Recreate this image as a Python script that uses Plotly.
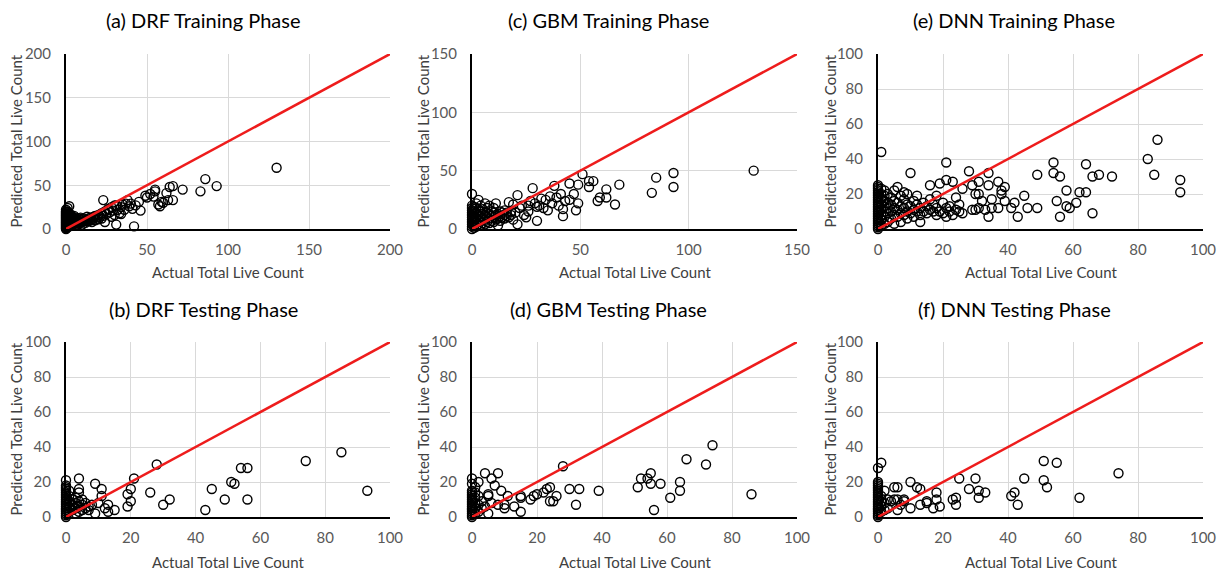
import plotly.graph_objects as go

W, H = 1225, 573

# ---------------- data ----------------
# (a) DRF Training Phase
drf_train_actual = [0,0,0,0,0,0,0,0,0,0,0,0,0,0,0,0,0,0,0,0,0,0,1,1,1,1,1,1,1,1,2,2,2,2,2,2,2,3,3,3,3,3,4,4,4,4,5,5,5,5,6,6,6,6,7,7,7,8,8,8,9,9,9,10,10,10,11,11,12,12,13,13,14,14,15,15,16,16,17,17,18,18,19,20,20,21,22,22,23,23,24,24,25,26,26,27,28,28,29,30,30,31,31,32,33,34,34,35,36,37,38,39,40,41,42,43,45,46,49,50,52,54,55,55,57,58,59,60,62,63,64,66,66,72,83,86,93,130]
drf_train_pred = [0,1,2,3,4,5,6,7,8,9,10,11,12,13,14,15,16,17,18,19,20,22,24,2,5,8,11,14,17,20,3,6,9,12,15,18,26,4,7,10,13,16,5,8,11,14,6,9,12,15,4,7,10,13,5,8,11,6,9,12,7,10,13,8,11,5,9,12,10,7,11,14,9,12,10,13,11,8,14,12,10,15,13,16,11,14,18,12,33,15,20,8,17,22,23,19,14,25,21,27,16,5,27,22,18,17,25,28,22,29,33,26,29,23,3,27,31,21,38,36,40,37,45,43,28,26,31,30,41,33,48,49,33,45,43,57,49,70]

# (c) GBM Training Phase
gbm_train_actual = [0,0,0,0,0,0,0,0,0,0,0,0,1,1,1,1,1,1,1,1,1,1,2,2,2,2,2,2,3,3,3,3,3,4,4,4,4,4,5,5,5,5,6,6,6,6,7,7,7,7,8,8,8,8,9,9,9,10,10,10,10,11,11,11,12,12,12,13,13,13,14,14,15,15,15,16,16,17,17,18,18,19,19,20,21,21,22,23,24,25,26,26,27,28,29,30,30,31,32,33,34,35,36,37,38,39,40,41,42,42,43,45,45,47,48,49,49,51,54,54,56,58,59,62,62,66,68,83,85,93,93,130]
gbm_train_pred = [0,2,4,6,8,10,12,14,16,18,20,30,1,3,5,7,9,11,13,15,17,19,2,6,10,14,18,22,4,8,12,16,25,3,7,11,15,20,5,9,13,17,4,8,12,22,6,10,14,18,5,9,13,20,7,11,15,6,10,14,18,8,12,22,3,9,13,7,11,15,10,14,9,12,16,11,14,10,23,12,15,21,8,14,29,4,18,20,12,10,15,20,24,35,22,7,19,20,26,18,25,16,28,22,37,27,20,30,11,17,24,25,39,30,16,38,22,47,36,41,41,24,27,27,34,21,38,31,44,36,48,50]

# (e) DNN Training Phase
dnn_train_actual = [0,0,0,0,0,0,0,0,0,0,0,0,0,0,0,0,0,0,0,0,0,0,0,0,0,0,1,1,1,1,1,1,1,1,1,2,2,2,2,2,2,2,3,3,3,3,3,4,4,4,4,5,5,5,5,5,6,6,6,6,7,7,7,7,8,8,8,8,9,9,9,9,10,10,10,11,11,11,12,12,12,13,13,13,14,14,15,15,16,16,16,17,17,18,18,18,19,19,20,20,21,21,21,21,22,22,23,23,24,24,25,25,26,26,28,29,29,30,30,31,31,31,32,33,34,34,34,35,35,37,37,38,38,39,39,41,42,43,45,46,49,49,54,54,55,56,56,58,58,59,61,62,64,64,66,66,68,72,83,85,86,93,93]
dnn_train_pred = [0,1,2,3,4,5,6,7,8,9,10,11,12,13,14,15,16,17,18,19,20,21,22,23,24,25,2,5,8,11,14,17,20,23,44,3,7,10,13,16,19,22,4,9,12,15,20,6,10,14,18,3,8,12,16,22,7,11,15,24,4,9,13,19,8,12,17,21,6,10,14,20,9,13,32,7,11,16,10,14,19,4,8,12,10,15,9,13,11,17,25,10,14,8,12,19,10,26,9,15,7,12,28,38,10,13,8,27,11,18,10,14,9,23,33,11,25,20,11,12,27,20,16,11,32,25,7,12,17,27,12,22,20,16,24,12,15,7,19,12,31,12,38,32,16,7,30,22,13,12,15,21,21,37,30,9,31,30,40,31,51,28,21]

# (b) DRF Testing Phase
drf_test_actual = [0,0,0,0,0,0,0,0,0,0,0,0,0,0,0,0,0,0,0,0,1,1,1,1,1,2,2,2,3,3,3,3,4,4,4,4,4,4,5,5,5,6,6,7,7,8,9,9,10,11,11,12,13,13,15,19,19,20,20,21,26,28,30,32,43,45,49,51,52,54,56,56,74,85,93]
drf_test_pred = [0,1,2,3,4,5,6,7,8,9,10,11,12,13,14,15,16,17,18,21,3,6,9,12,15,4,7,10,2,5,8,11,3,6,9,14,16,22,4,7,10,5,8,4,6,7,2,19,8,12,16,5,3,7,4,6,13,9,16,22,14,30,7,10,4,16,10,20,19,28,28,10,32,37,15]

# (d) GBM Testing Phase
gbm_test_actual = [0,0,0,0,0,0,0,0,0,0,0,0,0,0,0,0,0,0,1,1,1,1,1,1,2,2,2,2,3,3,4,4,5,5,5,6,6,7,8,8,9,10,10,11,13,15,15,15,18,19,20,22,23,24,24,25,26,28,30,32,33,39,51,52,54,55,55,56,58,61,64,64,66,72,74,86]
gbm_test_pred = [0,1,2,3,4,5,6,7,8,9,10,11,12,13,14,15,19,22,2,5,8,11,14,17,3,7,12,20,5,9,6,25,2,12,13,8,22,18,7,25,15,5,7,12,6,3,12,11,10,12,13,14,16,17,9,9,12,29,16,7,16,15,17,22,22,25,19,4,19,11,20,15,33,30,41,13]

# (f) DNN Testing Phase
dnn_test_actual = [0,0,0,0,0,0,0,0,0,0,0,0,0,0,0,0,0,0,0,0,0,0,1,1,1,1,1,2,2,2,3,3,4,5,5,6,6,6,7,8,8,10,10,12,13,13,15,15,17,18,18,19,23,24,24,25,28,30,31,31,33,41,42,43,45,51,51,52,55,62,74]
dnn_test_pred = [0,1,2,3,4,5,6,7,8,9,10,11,12,13,14,15,16,17,18,19,20,28,31,3,6,9,12,4,8,15,5,10,9,10,17,4,17,10,7,9,10,20,5,17,16,7,8,9,5,14,10,6,10,11,7,22,16,22,15,11,14,12,14,7,22,21,32,17,31,11,25]

titles = ["(a) DRF Training Phase", "(c) GBM Training Phase", "(e) DNN Training Phase",
          "(b) DRF Testing Phase", "(d) GBM Testing Phase", "(f) DNN Testing Phase"]
axis_max = [200, 150, 100, 100, 100, 100]
tick_step = [50, 50, 20, 20, 20, 20]
series = [(drf_train_actual, drf_train_pred), (gbm_train_actual, gbm_train_pred),
          (dnn_train_actual, dnn_train_pred), (drf_test_actual, drf_test_pred),
          (gbm_test_actual, gbm_test_pred), (dnn_test_actual, dnn_test_pred)]

# ---------------- layout geometry (pixels) ----------------
cols = [(66, 390), (472, 797), (878, 1203)]
rows = [(54, 229), (342, 517)]
title_x = [203, 608, 1014]
title_y = [20, 309]
ytitle_x = [16, 423, 830]
xtitle_y = [272, 562]

FONT = "Lato"
fig = go.Figure()
annotations = []

for i in range(6):
    r, c = divmod(i, 3)
    n = i + 1
    xa = "x" if n == 1 else f"x{n}"
    ya = "y" if n == 1 else f"y{n}"
    ax_x, ax_y = series[i]
    m = axis_max[i]
    fig.add_trace(go.Scatter(
        x=ax_x, y=ax_y, mode="markers", xaxis=xa, yaxis=ya,
        marker=dict(symbol="circle-open", size=9, color="black", line=dict(width=1.4, color="black")),
        cliponaxis=False, showlegend=False, hoverinfo="x+y"))
    fig.add_trace(go.Scatter(
        x=[0, m], y=[0, m], mode="lines", xaxis=xa, yaxis=ya,
        line=dict(color="#ee1c1c", width=2.5), showlegend=False, hoverinfo="skip"))

    x0, x1 = cols[c]
    y0, y1 = rows[r]
    common = dict(range=[0, m], dtick=tick_step[i], tick0=0, showgrid=True, gridcolor="#d9d9d9",
                  gridwidth=1, zeroline=False, showline=True, linecolor="black", linewidth=2,
                  ticks="outside", tickcolor="rgba(0,0,0,0)", automargin=False,
                  tickfont=dict(family=FONT, size=15, color="#595959"), fixedrange=True)
    fig.layout[f"xaxis{'' if n == 1 else n}"] = dict(domain=[x0 / W, x1 / W], anchor=ya, ticklen=6, **common)
    fig.layout[f"yaxis{'' if n == 1 else n}"] = dict(domain=[1 - y1 / H, 1 - y0 / H], anchor=xa, ticklen=10, **common)

    annotations.append(dict(text=titles[i], x=title_x[c] / W, y=1 - title_y[r] / H, xref="paper", yref="paper",
                            showarrow=False, xanchor="center", yanchor="middle",
                            font=dict(family=FONT, size=20, color="black")))
    annotations.append(dict(text="Actual Total Live Count", x=(x0 + x1) / 2 / W, y=1 - xtitle_y[r] / H,
                            xref="paper", yref="paper", showarrow=False, xanchor="center", yanchor="middle",
                            font=dict(family=FONT, size=15, color="#404040")))
    annotations.append(dict(text="Predicted Total Live Count", x=ytitle_x[c] / W, y=1 - (y0 + y1) / 2 / H,
                            xref="paper", yref="paper", showarrow=False, xanchor="center", yanchor="middle",
                            textangle=-90, font=dict(family=FONT, size=15, color="#404040")))

fig.update_layout(width=W, height=H, margin=dict(l=0, r=0, t=0, b=0, autoexpand=False),
                  paper_bgcolor="white", plot_bgcolor="white", annotations=annotations,
                  showlegend=False)

fig.write_html("out.html")
